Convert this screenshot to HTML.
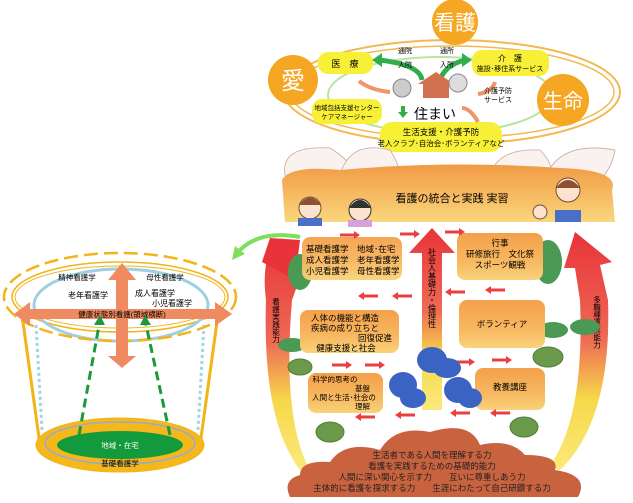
<!DOCTYPE html>
<html><head><meta charset="utf-8"><style>
html,body{margin:0;padding:0;background:#fff;}
svg{display:block;font-family:"Liberation Sans","Noto Sans CJK JP",sans-serif;}
</style></head><body>
<svg width="633" height="503" viewBox="0 0 633 503" xmlns="http://www.w3.org/2000/svg">
<defs>
<linearGradient id="arrR" x1="0" y1="0" x2="0" y2="1">
<stop offset="0" stop-color="#e8333a"/><stop offset="0.45" stop-color="#ee6a55"/><stop offset="0.7" stop-color="#f6d84a"/><stop offset="1" stop-color="#fbe97a"/></linearGradient>
<linearGradient id="boxO" x1="0" y1="0" x2="0" y2="1">
<stop offset="0" stop-color="#f4a04a"/><stop offset="0.6" stop-color="#f7b860"/><stop offset="1" stop-color="#f9d27a"/></linearGradient>
<linearGradient id="band" x1="0" y1="0" x2="0" y2="1">
<stop offset="0" stop-color="#f29a45"/><stop offset="1" stop-color="#f9d77c"/></linearGradient>
</defs>

<!-- ===== TOP ===== -->
<ellipse cx="452" cy="92" rx="168" ry="52" fill="none" stroke="#f2b950" stroke-width="2"/>
<ellipse cx="452" cy="92" rx="162" ry="46" fill="none" stroke="#f2b950" stroke-width="1.5"/>
<ellipse cx="440" cy="95" rx="112" ry="38" fill="none" stroke="#b8e6a0" stroke-width="2"/>
<circle cx="455" cy="22" r="23" fill="#f5a623"/>
<text x="455" y="30" font-size="21" fill="#fff" text-anchor="middle">看護</text>
<circle cx="293" cy="80" r="25" fill="#f5a623"/>
<text x="293" y="89" font-size="24" fill="#fff" text-anchor="middle">愛</text>
<circle cx="563" cy="100" r="26" fill="#f5a623"/>
<text x="563" y="108" font-size="20" fill="#fff" text-anchor="middle">生命</text>

<rect x="318" y="52" width="55" height="22" rx="10" fill="#f8f036"/>
<text x="345" y="67" font-size="9" text-anchor="middle">医　療</text>
<rect x="472" y="50" width="77" height="26" rx="10" fill="#f8f036"/>
<text x="510" y="61" font-size="8" text-anchor="middle">介　護</text>
<text x="510" y="71" font-size="7" text-anchor="middle">施設･移住系サービス</text>
<rect x="312" y="99" width="70" height="25" rx="10" fill="#f8f036"/>
<text x="347" y="110" font-size="6.5" text-anchor="middle">地域包括支援センター</text>
<text x="347" y="119" font-size="6.5" text-anchor="middle">ケアマネージャー</text>
<rect x="380" y="122" width="122" height="30" rx="12" fill="#f8f036"/>
<text x="441" y="135" font-size="8.5" text-anchor="middle">生活支援・介護予防</text>
<text x="441" y="146" font-size="7.5" text-anchor="middle">老人クラブ･自治会･ボランティアなど</text>

<path d="M422,80 Q420,65 380,60" stroke="#2fae4a" stroke-width="5" fill="none"/>
<path d="M372,60 l10,-7 v14z" fill="#2fae4a"/>
<path d="M440,80 Q445,65 465,60" stroke="#2fae4a" stroke-width="5" fill="none"/>
<path d="M472,60 l-10,-7 v14z" fill="#2fae4a"/>
<text x="405" y="53" font-size="7" text-anchor="middle">通院</text>
<text x="405" y="67" font-size="7" text-anchor="middle">入院</text>
<text x="447" y="53" font-size="7" text-anchor="middle">通所</text>
<text x="447" y="67" font-size="7" text-anchor="middle">入所</text>
<path d="M418,84 L436,72 L454,84 L449,84 L449,98 L423,98 L423,84z" fill="#d2714f"/>
<circle cx="402" cy="88" r="9" fill="#ccc" stroke="#888"/>
<circle cx="458" cy="83" r="9" fill="#ddd" stroke="#888"/>
<text x="435" y="119" font-size="14" text-anchor="middle">住まい</text>
<path d="M403,106 v8" stroke="#2fae4a" stroke-width="4"/><path d="M398,112 h10 l-5,6z" fill="#2fae4a"/>
<path d="M359,81 Q370,90 390,92" stroke="#f0946a" stroke-width="4" fill="none"/>
<path d="M495,82 Q492,92 478,94" stroke="#f0946a" stroke-width="4" fill="none"/>
<path d="M478,122 Q470,108 462,108" stroke="#f0946a" stroke-width="4" fill="none"/>
<text x="498" y="93" font-size="7" text-anchor="middle">介護予防</text>
<text x="498" y="102" font-size="7" text-anchor="middle">サービス</text>

<!-- petals -->
<g fill="#faf2ee" stroke="#c9a9a0" stroke-width="0.8">
<path d="M285,175 Q280,145 330,148 Q350,160 360,178z"/>
<path d="M340,175 Q350,140 390,150 Q400,165 400,178z"/>
<path d="M490,178 Q495,148 540,150 Q555,165 550,178z"/>
<path d="M545,178 Q560,140 615,150 Q612,168 600,180z"/>
</g>
<path d="M282,180 Q290,165 340,170 Q450,160 560,168 Q620,170 612,190 L615,222 L285,222z" fill="url(#band)"/>
<text x="452" y="202" font-size="11" text-anchor="middle">看護の統合と実践 実習</text>
<g>
<circle cx="310" cy="208" r="11" fill="#fbe3d0" stroke="#7a4a30"/><path d="M299,205 Q310,190 321,205" fill="#8a5030"/>
<rect x="298" y="218" width="24" height="8" fill="#4a6fc8"/>
<circle cx="360" cy="210" r="11" fill="#fbe3d0" stroke="#333"/><path d="M349,208 Q360,192 371,208" fill="#333"/>
<rect x="348" y="220" width="24" height="7" fill="#d8a0d8"/>
<circle cx="568" cy="190" r="12" fill="#fbe3d0" stroke="#7a4a30"/><path d="M556,188 Q568,172 580,188" fill="#8a5030"/>
<circle cx="540" cy="212" r="7" fill="#fbe3d0" stroke="#7a4a30"/>
<rect x="555" y="210" width="26" height="12" fill="#4a6fc8"/>
</g>

<!-- ===== BOWL ===== -->
<path d="M266,300 Q262,420 300,470 L310,470 Q282,420 292,300 L300,278 L292,278 L282,238 L270,250 Q262,270 266,300z" fill="url(#arrR)"/>
<path d="M270,238 L300,240 L295,280 L262,262z" fill="#e8333a"/>
<path d="M608,300 Q612,420 560,470 L548,468 Q585,420 580,300 L575,268 L564,268 L575,232 L612,262 L600,265z" fill="url(#arrR)"/>
<text font-size="7.5" x="276" y="298" style="writing-mode:vertical-rl">看護実践能力</text>
<text font-size="7.5" x="597" y="296" style="writing-mode:vertical-rl">多職種連携能力</text>

<!-- plants (behind boxes) -->
<g fill="#4a9a55">
<ellipse cx="300" cy="272" rx="12" ry="18"/>
<ellipse cx="548" cy="262" rx="14" ry="22"/>
<ellipse cx="292" cy="345" rx="14" ry="7"/><ellipse cx="318" cy="341" rx="12" ry="7"/>
<ellipse cx="553" cy="330" rx="15" ry="8"/><ellipse cx="585" cy="327" rx="15" ry="8"/>
</g>

<path d="M432,228 L455,253 L442,253 L442,410 L422,410 L422,253 L409,253z" fill="url(#arrR)"/>
<text font-size="8" x="432" y="248" style="writing-mode:vertical-rl">社会人基礎力・倫理性</text>

<rect x="302" y="237" width="100" height="43" rx="8" fill="url(#boxO)" opacity="0.95"/>
<text font-size="8.5" x="306" y="252">基礎看護学　地域･在宅</text>
<text font-size="8.5" x="306" y="263">成人看護学　老年看護学</text>
<text font-size="8.5" x="306" y="274">小児看護学　母性看護学</text>
<rect x="457" y="233" width="86" height="47" rx="8" fill="url(#boxO)"/>
<text font-size="8.5" x="500" y="246" text-anchor="middle">行事</text>
<text font-size="8.5" x="500" y="257" text-anchor="middle">研修旅行　文化祭</text>
<text font-size="8.5" x="500" y="268" text-anchor="middle">スポーツ観戦</text>
<rect x="300" y="310" width="99" height="43" rx="8" fill="url(#boxO)"/>
<text font-size="8.5" x="345" y="321" text-anchor="middle">人体の機能と構造</text>
<text font-size="8.5" x="345" y="331" text-anchor="middle">疾病の成り立ちと</text>
<text font-size="8.5" x="392" y="341" text-anchor="end">回復促進</text>
<text font-size="8.5" x="346" y="351" text-anchor="middle">健康支援と社会</text>
<rect x="459" y="300" width="86" height="48" rx="8" fill="url(#boxO)"/>
<text font-size="8.5" x="502" y="327" text-anchor="middle">ボランティア</text>
<rect x="308" y="373" width="75" height="40" rx="8" fill="url(#boxO)"/>
<text font-size="7.5" x="335" y="382" text-anchor="middle">科学的思考の</text>
<text font-size="7.5" x="370" y="391" text-anchor="end">基盤</text>
<text font-size="7.5" x="344" y="400" text-anchor="middle">人間と生活･社会の</text>
<text font-size="7.5" x="370" y="409" text-anchor="end">理解</text>
<rect x="475" y="368" width="70" height="42" rx="8" fill="url(#boxO)"/>
<text font-size="8.5" x="510" y="390" text-anchor="middle">教養講座</text>

<g fill="#6b9a4a" stroke="#557a3a">
<ellipse cx="300" cy="367" rx="12" ry="8"/>
<ellipse cx="548" cy="357" rx="15" ry="10"/>
<ellipse cx="330" cy="432" rx="14" ry="10"/>
<ellipse cx="524" cy="427" rx="14" ry="10"/>
</g>

<g stroke="#e84040" stroke-width="3" fill="#e84040">
<path d="M340,235 h14"/><path d="M400,234 h14"/><path d="M445,232 h14"/>
<path d="M412,296 h-14"/><path d="M378,296 h-14"/>
<path d="M465,292 h-14"/><path d="M505,290 h-14"/>
<path d="M332,365 h14"/><path d="M365,365 h14"/>
<path d="M455,362 h14"/><path d="M492,360 h14"/>
<path d="M375,417 h-14"/><path d="M415,415 h-14"/>
<path d="M470,413 h-14"/><path d="M510,413 h-14"/>
</g>
<g fill="#e84040">
<path d="M354,231 l6,4 -6,4z"/><path d="M414,230 l6,4 -6,4z"/><path d="M459,228 l6,4 -6,4z"/>
<path d="M398,292 l-6,4 6,4z"/><path d="M364,292 l-6,4 6,4z"/>
<path d="M451,288 l-6,4 6,4z"/><path d="M491,286 l-6,4 6,4z"/>
<path d="M346,361 l6,4 -6,4z"/><path d="M379,361 l6,4 -6,4z"/>
<path d="M469,358 l6,4 -6,4z"/><path d="M506,356 l6,4 -6,4z"/>
<path d="M361,413 l-6,4 6,4z"/><path d="M401,411 l-6,4 6,4z"/>
<path d="M456,409 l-6,4 6,4z"/><path d="M496,409 l-6,4 6,4z"/>
</g>

<g fill="#3b63c4">
<ellipse cx="432" cy="360" rx="15" ry="13"/><ellipse cx="447" cy="368" rx="14" ry="10"/>
<ellipse cx="403" cy="385" rx="14" ry="13"/><ellipse cx="413" cy="398" rx="13" ry="10"/>
<ellipse cx="458" cy="390" rx="14" ry="13"/><ellipse cx="470" cy="398" rx="12" ry="10"/>
</g>

<path d="M290,497 Q282,480 300,475 Q300,460 330,462 Q345,440 380,450 Q395,425 430,432 Q470,420 480,445 Q510,438 525,455 Q560,455 555,470 Q590,475 578,497z" fill="#c9623e"/>
<g font-size="8.5" text-anchor="middle" fill="#222">
<text x="432" y="458">生活者である人間を理解する力</text>
<text x="432" y="469">看護を実践するための基礎的能力</text>
<text x="432" y="480">人間に深い関心を示す力　　互いに尊重しあう力</text>
<text x="432" y="491">主体的に看護を探求する力　　生涯にわたって自己研鑽する力</text>
</g>

<path d="M300,237 Q260,230 240,250" stroke="#7ee05a" stroke-width="4" fill="none"/>
<path d="M232,260 l3,-14 10,8z" fill="#7ee05a"/>

<!-- ===== LEFT BUCKET ===== -->
<path d="M22,315 L40,445 L200,445 L218,315" fill="none" stroke="#f2b418" stroke-width="3"/>
<path d="M36,325 L42,430 M204,325 L198,430" stroke="#9fd4e8" stroke-width="3" stroke-dasharray="3,3"/>
<ellipse cx="120" cy="445" rx="84" ry="27" fill="#f5b81c" stroke="#f2b418"/>
<ellipse cx="120" cy="443" rx="75" ry="21" fill="none" stroke="#9ac" stroke-width="1.5"/>
<ellipse cx="120" cy="445" rx="63" ry="14" fill="#139a3c"/>
<text x="120" y="448" font-size="7.5" text-anchor="middle" fill="#fff">地域・在宅</text>
<text x="120" y="466" font-size="7.5" text-anchor="middle">基礎看護学</text>
<ellipse cx="120" cy="297" rx="108" ry="35" fill="none" stroke="#f2b418" stroke-width="1.5"/>
<ellipse cx="120" cy="297" rx="105" ry="31" fill="none" stroke="#f2b418" stroke-width="1"/>
<ellipse cx="121" cy="305" rx="87" ry="36" fill="none" stroke="#9fcfe0" stroke-width="3"/>
<ellipse cx="120" cy="297" rx="116" ry="44" fill="none" stroke="#f2b418" stroke-width="2.5" stroke-dasharray="14,6"/>
<text x="77" y="280" font-size="7.5" text-anchor="middle">精神看護学</text>
<text x="165" y="280" font-size="7.5" text-anchor="middle">母性看護学</text>
<text x="88" y="298" font-size="8" text-anchor="middle">老年看護学</text>
<text x="155" y="296" font-size="8" text-anchor="middle">成人看護学</text>
<text x="172" y="306" font-size="8" text-anchor="middle">小児看護学</text>
<path d="M122,263 L136,280 L128,280 L128,356 L136,356 L122,368 L108,356 L116,356 L116,280 L108,280z" fill="#f08a60"/>
<path d="M14,314 L30,302 L30,309 L215,309 L215,302 L232,314 L215,326 L215,319 L30,319 L30,326z" fill="#f08a60"/>
<text x="122" y="317" font-size="7.5" text-anchor="middle">健康状態別看護(領域横断)</text>
<path d="M79,435 L100,320 M170,435 L145,320" stroke="#1a9a3c" stroke-width="3" stroke-dasharray="9,5"/>
<path d="M100,315 l-6,10 h11z M145,315 l-5,10 h11z" fill="#1a9a3c"/>
</svg>
</body></html>
